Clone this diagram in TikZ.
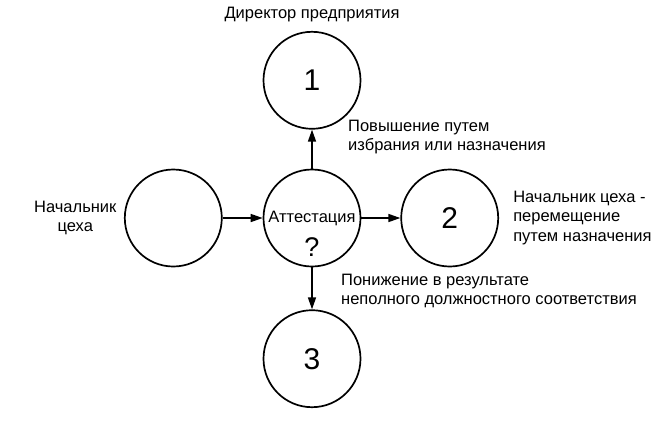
\documentclass[tikz,border=0pt]{standalone}
\usepackage{fontspec}
\setmainfont{Liberation Sans}
\usetikzlibrary{arrows.meta,positioning}

\begin{document}
\begin{tikzpicture}[x=1pt,y=1pt,node distance=40pt,font=\fontsize{16.5}{19.5}\selectfont]
\tikzset{
  circ/.style={draw,circle,line width=1.7pt,minimum size=97pt,inner sep=0pt},
  num/.style={font=\fontsize{30}{32}\selectfont},
  lbl/.style={align=left,inner sep=0pt},
  qm/.style={font=\fontsize{27}{28}\selectfont,inner sep=0pt},
  arr/.style={-{Triangle[length=12pt,width=8pt]},line width=1.6pt}
}
\useasboundingbox (0,0) rectangle (672,-421);
\node(att)[circ] at (312,-218){Аттестация};
\node(q)[qm] at ([yshift=-29pt]att.center){?};
\node(start)[circ,left=40pt of att]{};
\node(c1)[circ,num,above=39pt of att]{1};
\node(c2)[circ,num,right=39pt of att]{2};
\node(c3)[circ,num,below=42pt of att]{3};
\node(dir)[above=5pt of c1]{Директор предприятия};
\node(chief)[align=center,left=4pt of start]{Начальник\\цеха};
\node(up)[lbl,anchor=north west] at ([xshift=36pt,yshift=10pt]c1.south){Повышение путем\\избрания или назначения};
\node(move)[lbl,right=14pt of c2]{Начальник цеха -\\перемещение\\путем назначения};
\node(down)[lbl,anchor=south west] at ([xshift=29pt,yshift=1pt]c3.north){Понижение в результате\\неполного должностного соответствия};
\draw[arr](start)--(att); \draw[arr](att)--(c2); \draw[arr](att)--(c1); \draw[arr](att)--(c3);
\end{tikzpicture}
\end{document}
